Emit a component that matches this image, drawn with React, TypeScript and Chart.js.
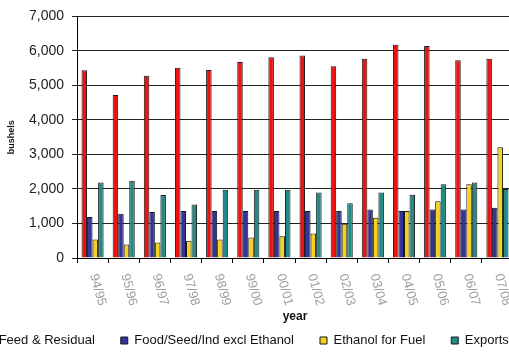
import { useEffect, useRef } from 'react';
import { Chart, registerables } from 'chart.js';

Chart.register(...registerables);

const categories = ['94/95', '95/96', '96/97', '97/98', '98/99', '99/00', '00/01', '01/02', '02/03', '03/04', '04/05', '05/06', '06/07', '07/08'];
const seriesNames = ['Feed & Residual', 'Food/Seed/Ind excl Ethanol', 'Ethanol for Fuel', 'Exports'];
const feedResidual = [5440, 4725, 5280, 5510, 5450, 5680, 5820, 5870, 5555, 5775, 6175, 6140, 5730, 5775];
const foodSeedInd = [1185, 1280, 1330, 1360, 1360, 1360, 1360, 1360, 1360, 1405, 1360, 1405, 1405, 1455];
const ethanolFuel = [535, 390, 450, 500, 535, 595, 630, 710, 995, 1165, 1360, 1645, 2140, 3210];
const exportsVals = [2190, 2240, 1825, 1550, 1980, 1980, 1980, 1900, 1585, 1900, 1835, 2140, 2190, 2000];
const seriesColors = ['#ee1111', '#333399', '#f5d21e', '#218a84'];
const yTitle = 'bushels';
const xTitle = 'year';

const FONT = '"Liberation Sans", Arial, sans-serif';

const xLabelPlugin = {
  id: 'xLabels',
  afterDraw(chart: any) {
    const scale = chart.scales.x;
    const ctx = chart.ctx;
    ctx.save();
    ctx.font = `13px ${FONT}`;
    ctx.fillStyle = '#a0a0a0';
    ctx.textAlign = 'left';
    ctx.textBaseline = 'middle';
    scale.ticks.forEach((_t: any, i: number) => {
      const x = scale.getPixelForTick(i);
      ctx.save();
      ctx.translate(x + 1, scale.top + 16);
      ctx.rotate((75 * Math.PI) / 180);
      ctx.fillText(String(scale.getLabelForValue(i)), 0, 0);
      ctx.restore();
    });
    ctx.restore();
  },
};

export default function App() {
  const ref = useRef<HTMLCanvasElement>(null);
  useEffect(() => {
    const values = [feedResidual, foodSeedInd, ethanolFuel, exportsVals];
    const chart = new Chart(ref.current as HTMLCanvasElement, {
      type: 'bar',
      data: {
        labels: categories,
        datasets: seriesNames.map((name, i) => ({
          label: name,
          data: values[i],
          backgroundColor: seriesColors[i],
          borderColor: '#1a1a1a',
          borderWidth: 1,
          categoryPercentage: 0.71,
          barPercentage: 1,
        })),
      },
      options: {
        animation: false,
        responsive: false,
        layout: { padding: { left: 0, right: 0, top: 14, bottom: 0 } },
        plugins: {
          title: { display: false },
          tooltip: { enabled: false },
          legend: {
            position: 'bottom',
            labels: {
              boxWidth: 7,
              boxHeight: 7,
              padding: 26,
              color: '#111',
              font: { size: 13, family: FONT },
            },
          },
        },
        scales: {
          x: {
            grid: { offset: true, drawOnChartArea: false, drawTicks: true, tickLength: 5, color: '#000' },
            border: { color: '#000', width: 1 },
            ticks: { display: false },
            title: {
              display: true,
              text: xTitle,
              color: '#111',
              font: { size: 12, weight: 'bold', family: FONT },
              padding: { top: 0, bottom: -16 },
            },
            afterFit: (s: any) => {
              s.height = 50;
            },
          },
          y: {
            min: 0,
            max: 7000,
            ticks: {
              stepSize: 1000,
              padding: 8,
              color: '#222',
              font: { size: 14, family: FONT },
              callback: (v: any) => Number(v).toLocaleString('en-US'),
            },
            grid: { color: '#222', lineWidth: 1, tickLength: 5 },
            border: { color: '#000', width: 1 },
            title: {
              display: true,
              text: yTitle,
              color: '#111',
              font: { size: 9, weight: 'bold', family: FONT },
              padding: { top: 75, bottom: 0 },
            },
            afterFit: (s: any) => {
              s.width = 69 + 77;
            },
          },
          yRight: {
            position: 'right',
            display: true,
            grid: { display: false, drawTicks: false },
            border: { display: false },
            ticks: { display: false },
            afterFit: (s: any) => {
              s.width = 50;
            },
          },
        },
      },
      plugins: [xLabelPlugin],
    } as any);
    return () => chart.destroy();
  }, []);
  return (
    <div style={{ position: 'fixed', left: 0, top: 0, width: 509, height: 356, overflow: 'hidden', background: '#fff' }}>
      <canvas
        ref={ref}
        width={632}
        height={357}
        style={{ position: 'absolute', left: -69, top: 0, width: 632, height: 357 }}
      />
    </div>
  );
}
